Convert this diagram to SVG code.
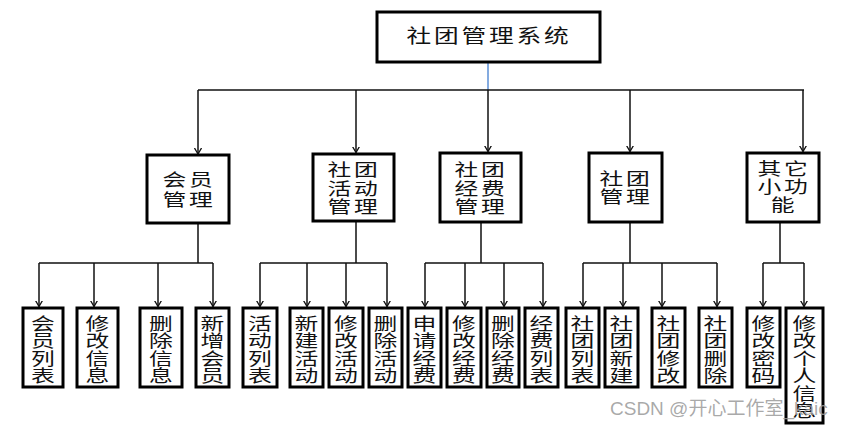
<svg xmlns="http://www.w3.org/2000/svg" width="842" height="427" viewBox="0 0 842 427">
<style>
.box{fill:#fff;stroke:#000;stroke-width:3}
.t{font-family:"Noto Sans CJK SC","Liberation Sans",sans-serif;font-size:17px;fill:#111;text-anchor:middle}
.t2{letter-spacing:2px}
.root{font-size:19px;letter-spacing:2.2px}
.c{fill:none;stroke:#111;stroke-width:1.5}
.blue{fill:none;stroke:#5b8fd6;stroke-width:1.5}
.wm{font-family:"Liberation Sans","Noto Sans CJK SC",sans-serif;font-size:19px;fill:#9a9a9a;fill-opacity:0.85}
</style>
<defs>
<marker id="ah" viewBox="0 0 6 8" refX="6" refY="4" markerWidth="6" markerHeight="8" markerUnits="userSpaceOnUse" orient="auto">
<path d="M0,0.5 L6,4 L0,7.5" fill="none" stroke="#111" stroke-width="1.3"/>
</marker>
</defs>
<rect width="842" height="427" fill="#fff"/>
<g id="connectors">
<path class="blue" d="M488,62 V90"/>
<path class="c" d="M198,90 H804"/>
<path class="c" marker-end="url(#ah)" d="M198,90 V154"/>
<path class="c" marker-end="url(#ah)" d="M356,90 V152.5"/>
<path class="c" marker-end="url(#ah)" d="M488,90 V151.5"/>
<path class="c" marker-end="url(#ah)" d="M630,90 V151.5"/>
<path class="c" marker-end="url(#ah)" d="M803,90 V151.5"/>
<path class="c" d="M198,223 V263 M39,263 H213"/>
<path class="c" d="M356,221 V263 M260,263 H387"/>
<path class="c" d="M481,222 V263 M425,263 H543"/>
<path class="c" d="M630,222 V263 M583,263 H717"/>
<path class="c" d="M780,222 V263 M763,263 H804"/>
<g marker-end="url(#ah)">
<path class="c" d="M39,263 V306.5"/>
<path class="c" d="M94,263 V306.5"/>
<path class="c" d="M158,263 V306.5"/>
<path class="c" d="M213,263 V306.5"/>
<path class="c" d="M260,263 V306.5"/>
<path class="c" d="M307,263 V306.5"/>
<path class="c" d="M346,263 V306.5"/>
<path class="c" d="M387,263 V306.5"/>
<path class="c" d="M425,263 V306.5"/>
<path class="c" d="M465,263 V306.5"/>
<path class="c" d="M504,263 V306.5"/>
<path class="c" d="M543,263 V306.5"/>
<path class="c" d="M583,263 V306.5"/>
<path class="c" d="M623,263 V306.5"/>
<path class="c" d="M662,263 V306.5"/>
<path class="c" d="M717,263 V306.5"/>
<path class="c" d="M763,263 V306.5"/>
<path class="c" d="M804,263 V306.5"/>
</g>
</g>
<g id="root">
<rect class="box" x="377" y="12" width="223" height="50"/>
<text class="t root" transform="translate(489,0) scale(1.3,1)" x="0" y="43">社团管理系统</text>
</g>
<g id="n-member">
<rect class="box" x="147" y="155" width="82" height="68"/>
<text class="t t2" transform="translate(189,0) scale(1.4,1)"><tspan x="0" y="186">会员</tspan><tspan x="0" y="206">管理</tspan></text>
</g>
<g id="n-activity">
<rect class="box" x="313" y="154" width="81" height="67"/>
<text class="t t2" transform="translate(354,0) scale(1.4,1)"><tspan x="0" y="176">社团</tspan><tspan x="0" y="195">活动</tspan><tspan x="0" y="213">管理</tspan></text>
</g>
<g id="n-fee">
<rect class="box" x="440" y="153" width="81" height="69"/>
<text class="t t2" transform="translate(481,0) scale(1.4,1)"><tspan x="0" y="176">社团</tspan><tspan x="0" y="195">经费</tspan><tspan x="0" y="213">管理</tspan></text>
</g>
<g id="n-club">
<rect class="box" x="589" y="153" width="73" height="69"/>
<text class="t t2" transform="translate(626,0) scale(1.4,1)"><tspan x="0" y="185">社团</tspan><tspan x="0" y="203">管理</tspan></text>
</g>
<g id="n-other">
<rect class="box" x="747" y="153" width="72" height="69"/>
<text class="t t2" transform="translate(784,0) scale(1.4,1)"><tspan x="0" y="175">其它</tspan><tspan x="0" y="193">小功</tspan><tspan x="0" y="211">能</tspan></text>
</g>
<g id="l1"><rect class="box" x="23" y="308" width="40" height="79"/><text class="t" transform="translate(43,0) scale(1.4,1)"><tspan x="0" y="330">会</tspan><tspan x="0" y="347.5">员</tspan><tspan x="0" y="365">列</tspan><tspan x="0" y="382.5">表</tspan></text></g>
<g id="l2"><rect class="box" x="77" y="308" width="41" height="79"/><text class="t" transform="translate(97.5,0) scale(1.4,1)"><tspan x="0" y="330">修</tspan><tspan x="0" y="347.5">改</tspan><tspan x="0" y="365">信</tspan><tspan x="0" y="382.5">息</tspan></text></g>
<g id="l3"><rect class="box" x="140" y="308" width="42" height="79"/><text class="t" transform="translate(161,0) scale(1.4,1)"><tspan x="0" y="330">删</tspan><tspan x="0" y="347.5">除</tspan><tspan x="0" y="365">信</tspan><tspan x="0" y="382.5">息</tspan></text></g>
<g id="l4"><rect class="box" x="196" y="308" width="33" height="79"/><text class="t" transform="translate(212.5,0) scale(1.4,1)"><tspan x="0" y="330">新</tspan><tspan x="0" y="347.5">增</tspan><tspan x="0" y="365">会</tspan><tspan x="0" y="382.5">员</tspan></text></g>
<g id="l5"><rect class="box" x="243" y="308" width="34" height="79"/><text class="t" transform="translate(260,0) scale(1.4,1)"><tspan x="0" y="330">活</tspan><tspan x="0" y="347.5">动</tspan><tspan x="0" y="365">列</tspan><tspan x="0" y="382.5">表</tspan></text></g>
<g id="l6"><rect class="box" x="290" y="308" width="33" height="79"/><text class="t" transform="translate(306.5,0) scale(1.4,1)"><tspan x="0" y="330">新</tspan><tspan x="0" y="347.5">建</tspan><tspan x="0" y="365">活</tspan><tspan x="0" y="382.5">动</tspan></text></g>
<g id="l7"><rect class="box" x="329" y="308" width="34" height="79"/><text class="t" transform="translate(346,0) scale(1.4,1)"><tspan x="0" y="330">修</tspan><tspan x="0" y="347.5">改</tspan><tspan x="0" y="365">活</tspan><tspan x="0" y="382.5">动</tspan></text></g>
<g id="l8"><rect class="box" x="369" y="308" width="33" height="79"/><text class="t" transform="translate(385.5,0) scale(1.4,1)"><tspan x="0" y="330">删</tspan><tspan x="0" y="347.5">除</tspan><tspan x="0" y="365">活</tspan><tspan x="0" y="382.5">动</tspan></text></g>
<g id="l9"><rect class="box" x="408" y="308" width="33" height="79"/><text class="t" transform="translate(424.5,0) scale(1.4,1)"><tspan x="0" y="330">申</tspan><tspan x="0" y="347.5">请</tspan><tspan x="0" y="365">经</tspan><tspan x="0" y="382.5">费</tspan></text></g>
<g id="l10"><rect class="box" x="447" y="308" width="34" height="79"/><text class="t" transform="translate(464,0) scale(1.4,1)"><tspan x="0" y="330">修</tspan><tspan x="0" y="347.5">改</tspan><tspan x="0" y="365">经</tspan><tspan x="0" y="382.5">费</tspan></text></g>
<g id="l11"><rect class="box" x="487" y="308" width="32" height="79"/><text class="t" transform="translate(503,0) scale(1.4,1)"><tspan x="0" y="330">删</tspan><tspan x="0" y="347.5">除</tspan><tspan x="0" y="365">经</tspan><tspan x="0" y="382.5">费</tspan></text></g>
<g id="l12"><rect class="box" x="525" y="308" width="33" height="79"/><text class="t" transform="translate(541.5,0) scale(1.4,1)"><tspan x="0" y="330">经</tspan><tspan x="0" y="347.5">费</tspan><tspan x="0" y="365">列</tspan><tspan x="0" y="382.5">表</tspan></text></g>
<g id="l13"><rect class="box" x="566" y="308" width="33" height="79"/><text class="t" transform="translate(582.5,0) scale(1.4,1)"><tspan x="0" y="330">社</tspan><tspan x="0" y="347.5">团</tspan><tspan x="0" y="365">列</tspan><tspan x="0" y="382.5">表</tspan></text></g>
<g id="l14"><rect class="box" x="605" y="308" width="33" height="79"/><text class="t" transform="translate(621.5,0) scale(1.4,1)"><tspan x="0" y="330">社</tspan><tspan x="0" y="347.5">团</tspan><tspan x="0" y="365">新</tspan><tspan x="0" y="382.5">建</tspan></text></g>
<g id="l15"><rect class="box" x="652" y="308" width="33" height="79"/><text class="t" transform="translate(668.5,0) scale(1.4,1)"><tspan x="0" y="330">社</tspan><tspan x="0" y="347.5">团</tspan><tspan x="0" y="365">修</tspan><tspan x="0" y="382.5">改</tspan></text></g>
<g id="l16"><rect class="box" x="699" y="308" width="33" height="79"/><text class="t" transform="translate(715.5,0) scale(1.4,1)"><tspan x="0" y="330">社</tspan><tspan x="0" y="347.5">团</tspan><tspan x="0" y="365">删</tspan><tspan x="0" y="382.5">除</tspan></text></g>
<g id="l17"><rect class="box" x="747" y="308" width="33" height="79"/><text class="t" transform="translate(763.5,0) scale(1.4,1)"><tspan x="0" y="330">修</tspan><tspan x="0" y="347.5">改</tspan><tspan x="0" y="365">密</tspan><tspan x="0" y="382.5">码</tspan></text></g>
<g id="l18"><rect class="box" x="786" y="308" width="37" height="115"/><text class="t" transform="translate(804.5,0) scale(1.4,1)"><tspan x="0" y="330">修</tspan><tspan x="0" y="347.5">改</tspan><tspan x="0" y="365">个</tspan><tspan x="0" y="382.5">人</tspan><tspan x="0" y="400">信</tspan><tspan x="0" y="417.5">息</tspan></text></g>
<text class="wm" x="610" y="415">CSDN @开心工作室_kaic</text>
</svg>
